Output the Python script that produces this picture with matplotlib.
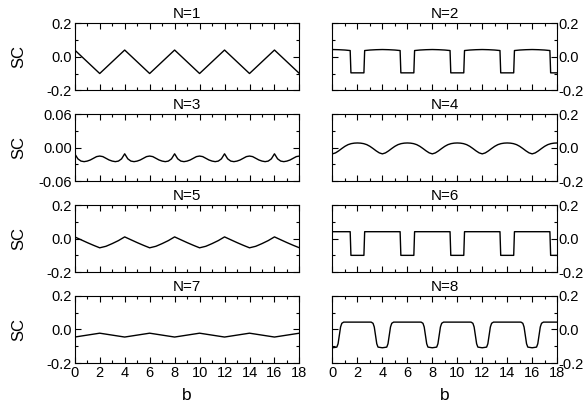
import matplotlib
matplotlib.use("Agg")
import matplotlib.pyplot as plt
from matplotlib.ticker import MultipleLocator, FormatStrFormatter
import numpy as np

plt.rcParams['font.family'] = ['Liberation Sans', 'DejaVu Sans']
plt.rcParams['axes.unicode_minus'] = False

## data
# N=1 and N=7 : straight zig-zag, corners every 2
b_zig = [0, 2, 4, 6, 8, 10, 12, 14, 16, 18]
sc_1 = [0.04, -0.1, 0.04, -0.1, 0.04, -0.1, 0.04, -0.1, 0.04, -0.1]
sc_7 = [-0.045, -0.022, -0.045, -0.022, -0.045, -0.022, -0.045, -0.022, -0.045, -0.022]

# N=5 : sampled every 0.5
b_half = np.arange(0, 18.01, 0.5)
sc_5 = [0.010, -0.007, -0.024, -0.040, -0.055, -0.046, -0.030, -0.012,
        0.010, -0.007, -0.024, -0.040, -0.055, -0.046, -0.030, -0.012,
        0.010, -0.007, -0.024, -0.040, -0.055, -0.046, -0.030, -0.012,
        0.010, -0.007, -0.024, -0.040, -0.055, -0.046, -0.030, -0.012,
        0.010, -0.007, -0.024, -0.040, -0.055]

# N=3 and N=4 : sampled every 0.25
b_quart = np.arange(0, 18.001, 0.25)
sc_3 = [-0.011, -0.020, -0.024, -0.025, -0.024, -0.022, -0.019, -0.016,
        -0.015, -0.016, -0.019, -0.022, -0.024, -0.025, -0.024, -0.020,
        -0.011, -0.020, -0.024, -0.025, -0.024, -0.022, -0.019, -0.016,
        -0.015, -0.016, -0.019, -0.022, -0.024, -0.025, -0.024, -0.020,
        -0.011, -0.020, -0.024, -0.025, -0.024, -0.022, -0.019, -0.016,
        -0.015, -0.016, -0.019, -0.022, -0.024, -0.025, -0.024, -0.020,
        -0.011, -0.020, -0.024, -0.025, -0.024, -0.022, -0.019, -0.016,
        -0.015, -0.016, -0.019, -0.022, -0.024, -0.025, -0.024, -0.020,
        -0.011, -0.020, -0.024, -0.025, -0.024, -0.022, -0.019, -0.016,
        -0.015]
sc_4 = [-0.037, -0.031, -0.019, -0.005, 0.008, 0.018, 0.024, 0.027,
        0.028, 0.027, 0.024, 0.018, 0.008, -0.005, -0.019, -0.031,
        -0.037, -0.031, -0.019, -0.005, 0.008, 0.018, 0.024, 0.027,
        0.028, 0.027, 0.024, 0.018, 0.008, -0.005, -0.019, -0.031,
        -0.037, -0.031, -0.019, -0.005, 0.008, 0.018, 0.024, 0.027,
        0.028, 0.027, 0.024, 0.018, 0.008, -0.005, -0.019, -0.031,
        -0.037, -0.031, -0.019, -0.005, 0.008, 0.018, 0.024, 0.027,
        0.028, 0.027, 0.024, 0.018, 0.008, -0.005, -0.019, -0.031,
        -0.037, -0.031, -0.019, -0.005, 0.008, 0.018, 0.024, 0.027,
        0.028]

# N=2 and N=6 : square steps
b_sq = [0, 0.5, 1.0, 1.42, 1.48, 2.52, 2.58, 3.0, 3.5,
        4, 4.5, 5.0, 5.42, 5.48, 6.52, 6.58, 7.0, 7.5,
        8, 8.5, 9.0, 9.42, 9.48, 10.52, 10.58, 11.0, 11.5,
        12, 12.5, 13.0, 13.42, 13.48, 14.52, 14.58, 15.0, 15.5,
        16, 16.5, 17.0, 17.42, 17.48, 18]
sc_2 = [0.043, 0.042, 0.040, 0.037, -0.096, -0.096, 0.037, 0.040, 0.042,
        0.043, 0.042, 0.040, 0.037, -0.096, -0.096, 0.037, 0.040, 0.042,
        0.043, 0.042, 0.040, 0.037, -0.096, -0.096, 0.037, 0.040, 0.042,
        0.043, 0.042, 0.040, 0.037, -0.096, -0.096, 0.037, 0.040, 0.042,
        0.043, 0.042, 0.040, 0.037, -0.096, -0.096]
sc_6 = [0.041, 0.041, 0.041, 0.041, -0.1, -0.1, 0.041, 0.041, 0.041,
        0.041, 0.041, 0.041, 0.041, -0.1, -0.1, 0.041, 0.041, 0.041,
        0.041, 0.041, 0.041, 0.041, -0.1, -0.1, 0.041, 0.041, 0.041,
        0.041, 0.041, 0.041, 0.041, -0.1, -0.1, 0.041, 0.041, 0.041,
        0.041, 0.041, 0.041, 0.041, -0.1, -0.1]

# N=8 : rounded steps
b_8 = [0, 0.35, 0.45, 0.55, 0.65, 0.75, 0.9, 3.1, 3.25, 3.35, 3.45, 3.55, 3.65,
       4, 4.35, 4.45, 4.55, 4.65, 4.75, 4.9, 7.1, 7.25, 7.35, 7.45, 7.55, 7.65,
       8, 8.35, 8.45, 8.55, 8.65, 8.75, 8.9, 11.1, 11.25, 11.35, 11.45, 11.55, 11.65,
       12, 12.35, 12.45, 12.55, 12.65, 12.75, 12.9, 15.1, 15.25, 15.35, 15.45, 15.55, 15.65,
       16, 16.35, 16.45, 16.55, 16.65, 16.75, 16.9, 18]
sc_8 = [-0.109, -0.105, -0.085, -0.035, 0.015, 0.037, 0.044, 0.044, 0.037, 0.015, -0.035, -0.085, -0.105,
        -0.109, -0.105, -0.085, -0.035, 0.015, 0.037, 0.044, 0.044, 0.037, 0.015, -0.035, -0.085, -0.105,
        -0.109, -0.105, -0.085, -0.035, 0.015, 0.037, 0.044, 0.044, 0.037, 0.015, -0.035, -0.085, -0.105,
        -0.109, -0.105, -0.085, -0.035, 0.015, 0.037, 0.044, 0.044, 0.037, 0.015, -0.035, -0.085, -0.105,
        -0.109, -0.105, -0.085, -0.035, 0.015, 0.037, 0.044, 0.044]

panels = [("N=1", b_zig, sc_1), ("N=2", b_sq, sc_2),
          ("N=3", b_quart, sc_3), ("N=4", b_quart, sc_4),
          ("N=5", b_half, sc_5), ("N=6", b_sq, sc_6),
          ("N=7", b_zig, sc_7), ("N=8", b_8, sc_8)]

## figure
fig, axes = plt.subplots(4, 2, figsize=(5.84, 4.07), dpi=100)
plt.subplots_adjust(left=0.128, right=0.954, top=0.943, bottom=0.108,
                    wspace=0.147, hspace=0.355)

for k, (titre, b, sc) in enumerate(panels):
    ax = axes[k // 2, k % 2]
    ax.plot(b, sc, color='black', lw=1.0)
    ax.set_xlim(0, 18)
    ax.xaxis.set_major_locator(MultipleLocator(2))
    ax.xaxis.set_minor_locator(MultipleLocator(1))
    if titre == "N=3":
        ax.set_ylim(-0.06, 0.06)
        ax.set_yticks([-0.06, 0.0, 0.06])
        ax.yaxis.set_minor_locator(MultipleLocator(0.03))
        ax.yaxis.set_major_formatter(FormatStrFormatter('%.2f'))
    else:
        ax.set_ylim(-0.2, 0.2)
        ax.set_yticks([-0.2, 0.0, 0.2])
        ax.yaxis.set_minor_locator(MultipleLocator(0.1))
        ax.yaxis.set_major_formatter(FormatStrFormatter('%.1f'))
    ax.tick_params(which='both', direction='in', top=True, right=True,
                   width=0.8, labelsize=10.5, pad=2)
    ax.tick_params(which='major', length=4)
    ax.tick_params(which='minor', length=2)
    for sp in ax.spines.values():
        sp.set_linewidth(0.8)
    ax.set_title(titre, fontsize=11, pad=3.5)
    if k % 2 == 1:
        ax.tick_params(axis='y', labelleft=False, labelright=True, pad=1)
    else:
        ax.set_ylabel("SC", fontsize=12)
        ax.yaxis.set_label_coords(-0.215, 0.5)
    if k // 2 < 3:
        ax.tick_params(labelbottom=False)
    else:
        ax.set_xlabel("b", fontsize=12.5, labelpad=6)

fig.savefig("out.png", dpi=100)
